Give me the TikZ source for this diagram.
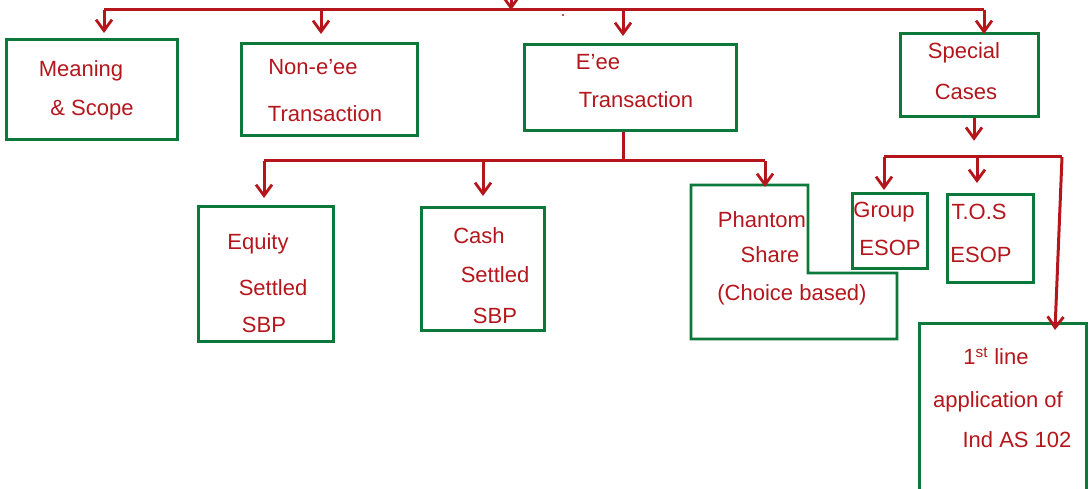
\documentclass[tikz,border=0pt]{standalone}
\usepackage{fontspec}
\setmainfont{Liberation Sans}
\usetikzlibrary{arrows.meta,calc}
\definecolor{ink}{RGB}{180,22,28}
\definecolor{boxgreen}{RGB}{12,120,58}
\begin{document}
\begin{tikzpicture}[x=1pt,y=-1pt,
  box/.style={draw=boxgreen,line width=2.8pt,inner sep=0pt,anchor=north west},
  wire/.style={draw=ink,line width=3pt},
  arr/.style={wire,-{Straight Barb[length=11pt,width=16pt,line width=2.8pt]}},
  lbl/.style={text=ink,font=\fontsize{22}{26}\selectfont,inner sep=0pt}]
\useasboundingbox (0,0) rectangle (1089,489);

% boxes
\node[box,minimum width=171pt,minimum height=100pt] (meaning) at (5,38) {};
\node[box,minimum width=176pt,minimum height=92pt]  (nonee)   at (240,42) {};
\node[box,minimum width=212pt,minimum height=86pt]  (ee)      at (523,43) {};
\node[box,minimum width=138pt,minimum height=83pt]  (special) at (899,32) {};
\node[box,minimum width=135pt,minimum height=135pt] (equity)  at (197,205) {};
\node[box,minimum width=123pt,minimum height=123pt] (cash)    at (420,206) {};
\node[box,minimum width=75pt,minimum height=75pt]   (group)   at (851,192) {};
\node[box,minimum width=86pt,minimum height=88pt]   (tos)     at (946,193) {};
\node[box,minimum width=167pt,minimum height=190pt] (first)   at (918,322) {};
% stepped outline of the phantom share box, as a ring between two outlines
\fill[boxgreen,even odd rule]
  (689.6,183.6) -- (809.4,183.6) -- (809.4,271.6) -- (898.4,271.6) -- (898.4,340.4) -- (689.6,340.4) -- cycle
  (692.4,186.4) -- (806.6,186.4) -- (806.6,274.4) -- (895.6,274.4) -- (895.6,337.6) -- (692.4,337.6) -- cycle;
\coordinate (phantom) at (765,185);

% labels
\node[lbl] at (81,71)   {Meaning};
\node[lbl] at (92,110)  {\& Scope};
\node[lbl] at (313,67)  {Non-e'ee};
\node[lbl] at (325,114) {Transaction};
\node[lbl] at (598,62)  {E'ee};
\node[lbl] at (636,100) {Transaction};
\node[lbl] at (964,53)  {Special};
\node[lbl] at (966,92)  {Cases};
\node[lbl] at (258,244) {Equity};
\node[lbl] at (273,288) {Settled};
\node[lbl] at (264,325) {SBP};
\node[lbl] at (479,236) {Cash};
\node[lbl] at (495,275) {Settled};
\node[lbl] at (495,316) {SBP};
\node[lbl] at (762,220) {Phantom};
\node[lbl] at (770,255) {Share};
\node[lbl] at (792,295) {(Choice based)};
\node[lbl] at (884,212) {Group};
\node[lbl] at (890,248) {ESOP};
\node[lbl] at (979,212) {T.O.S};
\node[lbl] at (981,255) {ESOP};
\node[lbl] at (996,356) {1\textsuperscript{st} line};
\node[lbl] at (998,402) {application of};
\node[lbl] at (1017,440) {Ind AS 102};

% top level bus
\coordinate (root) at (511,-20);
\coordinate (busL) at (104,10);
\coordinate (busR) at (984,10);
\coordinate (b2) at (321,10);
\coordinate (b3) at (623,10);
\draw[wire] (busL) -- (busR);
\draw[arr] (root) -- (root |- busL);
\fill[ink] (563,15) circle (1.2pt);
\draw[arr,shorten >=5pt] (busL) -- (busL |- meaning.north);
\draw[arr,shorten >=8pt] (b2) -- (b2 |- nonee.north);
\draw[arr,shorten >=7pt] (b3) -- (b3 |- ee.north);
\draw[arr,shorten >=-2pt] (busR) -- (busR |- special.north);

% employee transaction branch
\coordinate (mj) at (623,161);
\coordinate (m1) at (264,161);
\coordinate (m2) at (483,161);
\coordinate (m3) at (765,161);
\draw[wire] (ee.south -| mj) -- (mj);
\draw[wire] (m1) -- (m3);
\draw[arr,shorten >=7pt] (m1) -- (m1 |- equity.north);
\draw[arr,shorten >=10pt] (m2) -- (m2 |- cash.north);
\draw[arr,shorten >=-2pt] (m3) -- (phantom);

% special cases branch
\coordinate (sx) at (974,0);
\draw[arr] (special.south -| sx) -- ++(0,23);
\coordinate (s1) at (884,157);
\coordinate (s2) at (977,157);
\coordinate (s3) at (1062,157);
\draw[wire] (s1) -- (s3);
\draw[arr,shorten >=2pt] (s1) -- (s1 |- group.north);
\draw[arr,shorten >=10pt] (s2) -- (s2 |- tos.north);
\draw[arr] (s3) -- ($(first.north west)+(137,8)$);
\end{tikzpicture}
\end{document}
